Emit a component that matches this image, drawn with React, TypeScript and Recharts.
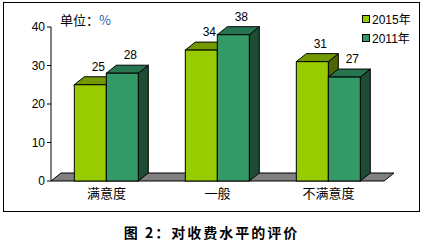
import { BarChart, Bar, XAxis, YAxis, LabelList, usePlotArea } from 'recharts';

const categories = ['满意度', '一般', '不满意度'];
const values2015 = [25, 34, 31];
const values2011 = [28, 38, 27];
const yTicks = [0, 10, 20, 30, 40];

const DX = 10;
const DY = 8;

const seriesColors = {
    s2015: { front: '#99CC00', top: '#739900', side: '#4D6600' },
    s2011: { front: '#339966', top: '#277550', side: '#1D4C35' },
};

const chartData = categories.map((name, i) => ({
    name,
    s2015: values2015[i],
    s2011: values2011[i],
}));

function Bar3D(props: any) {
    const { x, y, width, height, colors } = props;
    if (width == null || height == null) return null;
    const r = x + width;
    const b = y + height;
    return (
        <g stroke="#000" strokeWidth={1}>
            <polygon points={`${r},${y} ${r + DX},${y - DY} ${r + DX},${b - DY} ${r},${b}`} fill={colors.side} />
            <polygon points={`${x},${y} ${x + DX},${y - DY} ${r + DX},${y - DY} ${r},${y}`} fill={colors.top} />
            <rect x={x} y={y} width={width} height={height} fill={colors.front} />
        </g>
    );
}

function Floor() {
    const area = usePlotArea();
    if (!area) return null;
    const { x, y, width, height } = area;
    const b = y + height;
    const r = x + width;
    return (
        <polygon
            points={`${x},${b} ${x + DX},${b - DY} ${r + DX},${b - DY} ${r},${b}`}
            fill="#808080"
            stroke="#000"
            strokeWidth={1}
        />
    );
}

function ValueLabel(props: any) {
    const { x, y, width, value } = props;
    return (
        <text
            x={x + width / 2 + 8}
            y={y - DY - 6}
            textAnchor="middle"
            fontSize={12}
            fontFamily="Liberation Sans, Arial, sans-serif"
            fill="#000"
        >
            {value}
        </text>
    );
}

function LegendBox() {
    const items = [
        { label: '2015年', color: seriesColors.s2015.front },
        { label: '2011年', color: seriesColors.s2011.front },
    ];
    return (
        <div style={{ fontFamily: 'Liberation Sans, Arial, "Noto Sans CJK SC", sans-serif', fontSize: 12 }}>
            {items.map((it) => (
                <div key={it.label} style={{ display: 'flex', alignItems: 'center', height: 19 }}>
                    <span
                        style={{
                            width: 6,
                            height: 6,
                            background: it.color,
                            border: '1px solid #000',
                            marginRight: 2,
                        }}
                    />
                    <span>{it.label}</span>
                </div>
            ))}
        </div>
    );
}

export default function App() {
    return (
        <div style={{ position: 'absolute', left: 0, top: 0, width: 423, height: 242, background: '#fff' }}>
            <div
                style={{
                    position: 'absolute',
                    left: 3,
                    top: 2,
                    width: 415,
                    height: 208,
                    border: '1px solid #000',
                }}
            />
            <div
                style={{
                    position: 'absolute',
                    left: 60,
                    top: 10,
                    fontSize: 13,
                    fontFamily: '"Noto Sans CJK SC", sans-serif',
                    color: '#000',
                }}
            >
                单位：<span style={{ color: '#1f5fa8' }}>%</span>
            </div>
            <div style={{ position: 'absolute', left: 0, top: 0 }}>
                <BarChart
                    width={423}
                    height={215}
                    data={chartData}
                    margin={{ top: 27, right: 39, bottom: 14, left: 0 }}
                    barCategoryGap="21%"
                    barGap={0}
                >
                    <Floor />
                    <XAxis
                        dataKey="name"
                        axisLine={false}
                        tickLine={false}
                        height={20}
                        tick={{ fontSize: 13, fill: '#000', fontFamily: '"Noto Sans CJK SC", sans-serif' }}
                        tickMargin={2}
                    />
                    <YAxis
                        width={51}
                        domain={[0, 40]}
                        ticks={yTicks}
                        interval={0}
                        axisLine={{ stroke: '#000' }}
                        tickLine={{ stroke: '#000' }}
                        tickSize={4}
                        tick={{ fontSize: 12, fill: '#000', fontFamily: 'Liberation Sans, Arial, sans-serif' }}
                    />
                    <Bar
                        dataKey="s2015"
                        isAnimationActive={false}
                        shape={(p: any) => <Bar3D {...p} colors={seriesColors.s2015} />}
                    >
                        <LabelList dataKey="s2015" content={<ValueLabel />} />
                    </Bar>
                    <Bar
                        dataKey="s2011"
                        isAnimationActive={false}
                        shape={(p: any) => <Bar3D {...p} colors={seriesColors.s2011} />}
                    >
                        <LabelList dataKey="s2011" content={<ValueLabel />} />
                    </Bar>
                </BarChart>
            </div>
            <div style={{ position: 'absolute', left: 362, top: 9 }}>
                <LegendBox />
            </div>
            <div
                style={{
                    position: 'absolute',
                    left: 0,
                    width: 423,
                    top: 222,
                    textAlign: 'center',
                    fontSize: 14,
                    fontWeight: 'bold',
                    letterSpacing: 2,
                    fontFamily: '"Noto Sans CJK SC", sans-serif',
                    color: '#000',
                }}
            >
                图 2：对收费水平的评价
            </div>
        </div>
    );
}
